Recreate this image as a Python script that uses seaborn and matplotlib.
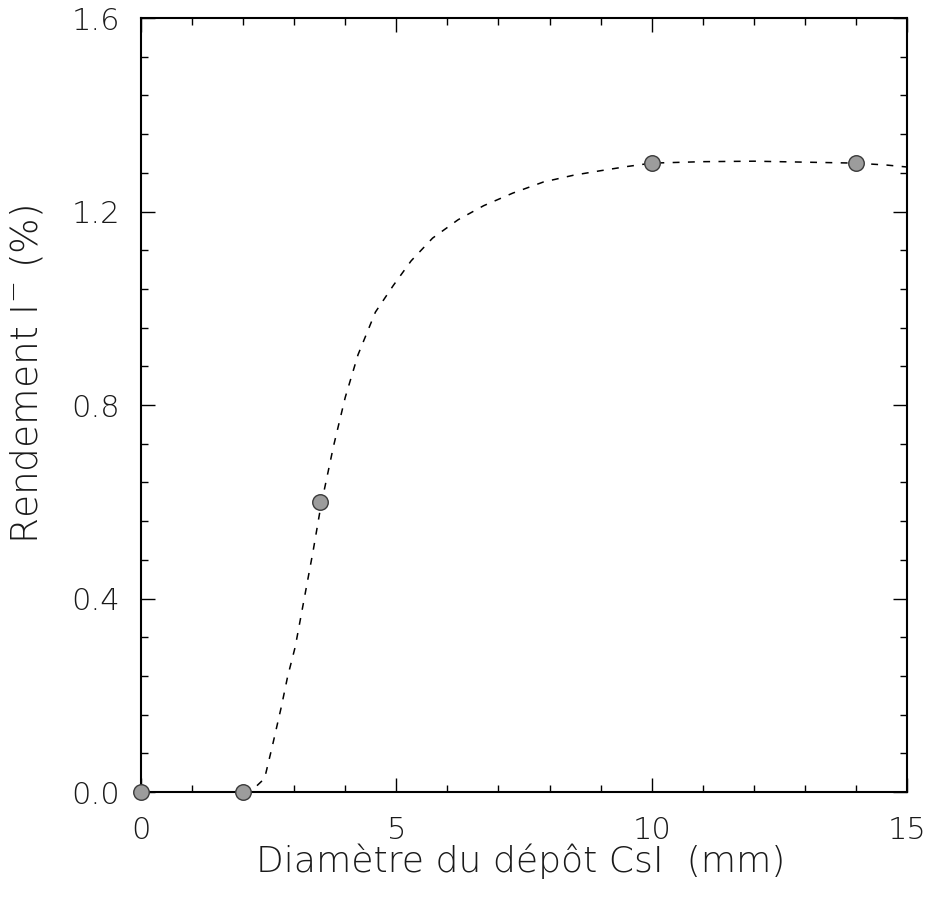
import matplotlib
matplotlib.use("Agg")
import matplotlib.pyplot as plt
from matplotlib.ticker import MultipleLocator, FixedLocator, FixedFormatter
import seaborn as sns

# Measured yield points
diam_mm = [0.0, 2.0, 3.5, 10.0, 14.0]
yield_pct = [0.0, 0.0, 0.6, 1.3, 1.3]

# Hand-drawn trend curve through the measurements
curve_x = [2.0, 2.26, 2.42, 2.57, 2.75, 2.87, 3.02, 3.13, 3.25, 3.37, 3.52,
           3.77, 4.0, 4.25, 4.59, 4.94, 5.29, 5.71, 6.21, 6.71, 7.28, 7.88,
           8.47, 8.98, 9.52, 10.0, 11.0, 12.0, 13.0, 14.0, 14.6, 15.0]
curve_y = [0.0, 0.012, 0.028, 0.094, 0.177, 0.238, 0.30, 0.362, 0.43, 0.498, 0.59,
           0.715, 0.816, 0.904, 0.992, 1.047, 1.098, 1.145, 1.183, 1.212, 1.238, 1.261,
           1.275, 1.284, 1.293, 1.30, 1.303, 1.304, 1.302, 1.30, 1.296, 1.292]

x_ticks = [0, 5, 10, 15]
x_ticklabels = ["0", "5", "10", "15"]
y_ticks = [0.0, 0.4, 0.8, 1.2, 1.6]
y_ticklabels = ["0.0", "0.4", "0.8", "1.2", "1.6"]

sns.set_theme(style="ticks")
plt.rcParams["font.family"] = ["DejaVu Sans"]
plt.rcParams["font.weight"] = "light"
plt.rcParams["axes.labelweight"] = "light"
plt.rcParams["mathtext.fontset"] = "dejavusans"

W, H = 947, 901
fig = plt.figure(figsize=(W / 100, H / 100), dpi=100)
fig.patch.set_facecolor("white")
left, right, top, bottom = 141, 907, 18, 792
ax = fig.add_axes([left / W, 1 - bottom / H, (right - left) / W, (bottom - top) / H])
ax.set_facecolor("white")

sns.lineplot(x=curve_x, y=curve_y, ax=ax, color="black", linewidth=1.1,
             sort=False, estimator=None, dashes=False)
ax.lines[-1].set_dashes((4.5, 5.5))

sns.scatterplot(x=diam_mm, y=yield_pct, ax=ax, s=125, color="#9c9c9c",
                edgecolor="#3a3a3a", linewidth=1.0, zorder=5, clip_on=False)

ax.set_xlim(0, 15)
ax.set_ylim(0, 1.6)
ax.xaxis.set_major_locator(FixedLocator(x_ticks))
ax.xaxis.set_major_formatter(FixedFormatter(x_ticklabels))
ax.yaxis.set_major_locator(FixedLocator(y_ticks))
ax.yaxis.set_major_formatter(FixedFormatter(y_ticklabels))
ax.xaxis.set_minor_locator(MultipleLocator(1))
ax.yaxis.set_minor_locator(MultipleLocator(0.08))

ax.tick_params(which="both", direction="in", top=True, right=True,
               color="black", width=1.0)
ax.tick_params(which="major", length=10)
ax.tick_params(which="minor", length=5)
ax.tick_params(axis="x", which="major", pad=17, labelsize=22, labelcolor="#1a1a1a")
ax.tick_params(axis="y", which="major", pad=15, labelsize=22, labelcolor="#1a1a1a")

for sp in ax.spines.values():
    sp.set_visible(True)
    sp.set_color("black")
    sp.set_linewidth(1.5)

ax.set_xlabel("Diamètre du dépôt CsI  (mm)", fontsize=26, color="#1a1a1a",
              fontweight="light")
ax.set_ylabel(r"Rendement I$^{-}$ (%)", fontsize=27, color="#1a1a1a",
              fontweight="light")
ax.xaxis.set_label_coords(0.496, -0.066)
ax.yaxis.set_label_coords(-0.125, 0.54)

fig.savefig("out.png", dpi=100, facecolor="white")
